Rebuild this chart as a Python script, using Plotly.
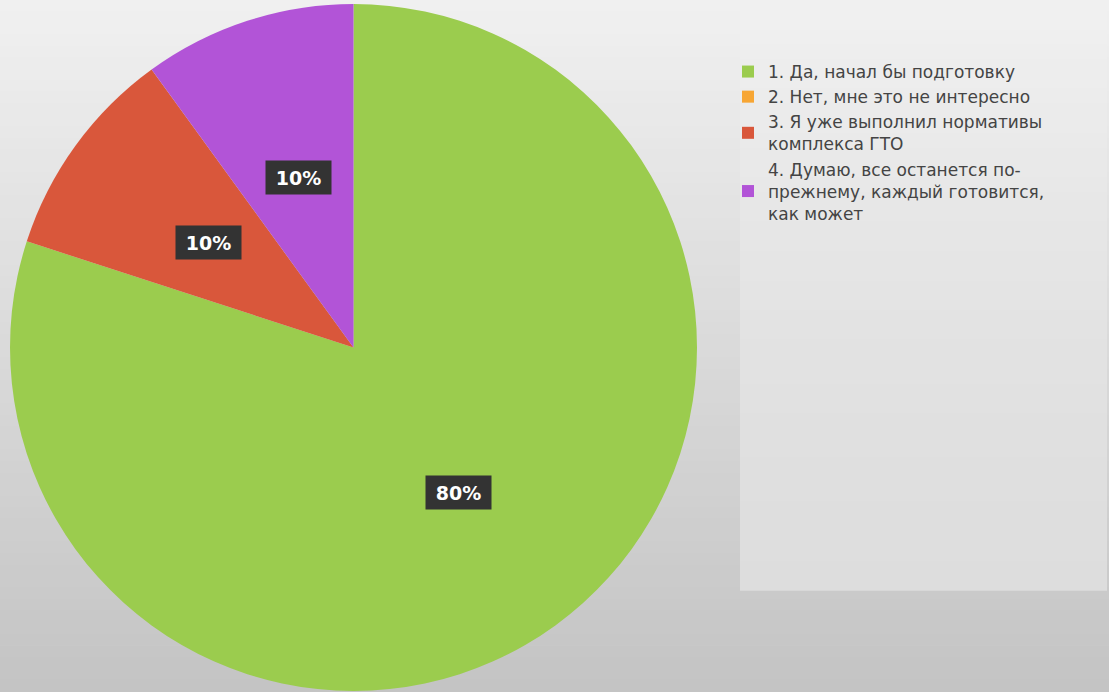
import math
import plotly.graph_objects as go

# ---- data ----
labels = [
    "1. Да, начал бы подготовку",
    "2. Нет, мне это не интересно",
    "3. Я уже выполнил нормативы<br>комплекса ГТО",
    "4. Думаю, все останется по-<br>прежнему, каждый готовится,<br>как может",
]
values = [80, 0, 10, 10]
colors = ["#9BCC4E", "#F7A634", "#D9573B", "#B254D7"]

W, H = 1109, 692
# pie domain in paper fractions
dom_x = [10 / W, 697 / W]
dom_y = [0.0, 1 - 3 / H]

fig = go.Figure()
fig.add_trace(go.Pie(
    labels=labels,
    values=values,
    marker=dict(colors=colors, line=dict(width=0)),
    sort=False,
    direction="clockwise",
    rotation=0,
    textinfo="none",
    hoverinfo="label+percent",
    domain=dict(x=dom_x, y=dom_y),
))

# background gradient (style only)
top = (0xF0, 0xF0, 0xF0)
bot = (0xC4, 0xC4, 0xC4)


def bg_at(t):
    return [top[j] + (bot[j] - top[j]) * t for j in range(3)]


shapes = []
n = 60
for i in range(n):
    c = bg_at(i / (n - 1))
    shapes.append(dict(type="rect", xref="paper", yref="paper",
                       x0=0, x1=1, y0=1 - (i + 1) / n, y1=1 - i / n + 0.001,
                       fillcolor="rgb(%d,%d,%d)" % tuple(round(x) for x in c),
                       line=dict(width=0), layer="below"))
# lighter legend panel (opaque bands blended with white)
panel_top, panel_bot = 0, 590
m = 40
for i in range(m):
    y0p = panel_top + (panel_bot - panel_top) * i / m
    y1p = panel_top + (panel_bot - panel_top) * (i + 1) / m
    a = 0.05 + 0.30 * (i / (m - 1))
    b = bg_at(((y0p + y1p) / 2) / H)
    c = tuple(round(b[j] * (1 - a) + 255 * a) for j in range(3))
    shapes.append(dict(type="rect", xref="paper", yref="paper",
                       x0=740 / W, x1=1107 / W,
                       y0=1 - y1p / H - 0.001, y1=1 - y0p / H,
                       fillcolor="rgb(%d,%d,%d)" % c,
                       line=dict(width=0), layer="below"))

# percentage labels placed along each slice's mid-angle
cx_px = (dom_x[0] + dom_x[1]) / 2 * W
cy_px = (1 - (dom_y[0] + dom_y[1]) / 2) * H
r_px = min((dom_x[1] - dom_x[0]) * W, (dom_y[1] - dom_y[0]) * H) / 2
total = sum(values)
annotations = []
cum = 0
for v in values:
    if v > 0:
        mid = (cum + v / 2) / total * 2 * math.pi
        k = 0.52
        px = cx_px + k * r_px * math.sin(mid)
        py = cy_px - k * r_px * math.cos(mid)
        annotations.append(dict(
            x=px / W, y=1 - py / H, xref="paper", yref="paper",
            xanchor="center", yanchor="middle",
            text="<b>%d%%</b>" % v, showarrow=False,
            font=dict(family="DejaVu Sans", size=19, color="white"),
            bgcolor="#333333", borderpad=4, width=57, height=25,
        ))
    cum += v

fig.update_layout(
    width=W, height=H,
    margin=dict(l=0, r=0, t=0, b=0),
    paper_bgcolor="#e6e6e6",
    plot_bgcolor="rgba(0,0,0,0)",
    shapes=shapes,
    annotations=annotations,
    showlegend=True,
    legend=dict(
        x=728 / W, y=1 - 54 / H, xanchor="left", yanchor="top",
        bgcolor="rgba(0,0,0,0)",
        font=dict(family="DejaVu Sans", size=17, color="#444444"),
        itemwidth=30,
        valign="middle",
        traceorder="normal",
    ),
)

fig.write_html("out.html", config={"displayModeBar": False})

# remove default page margin so the figure fills the window
with open("out.html", "r", encoding="utf-8") as f:
    html = f.read()
html = html.replace("<head>", "<head><style>html,body{margin:0;padding:0;overflow:hidden;}</style>", 1)
with open("out.html", "w", encoding="utf-8") as f:
    f.write(html)
